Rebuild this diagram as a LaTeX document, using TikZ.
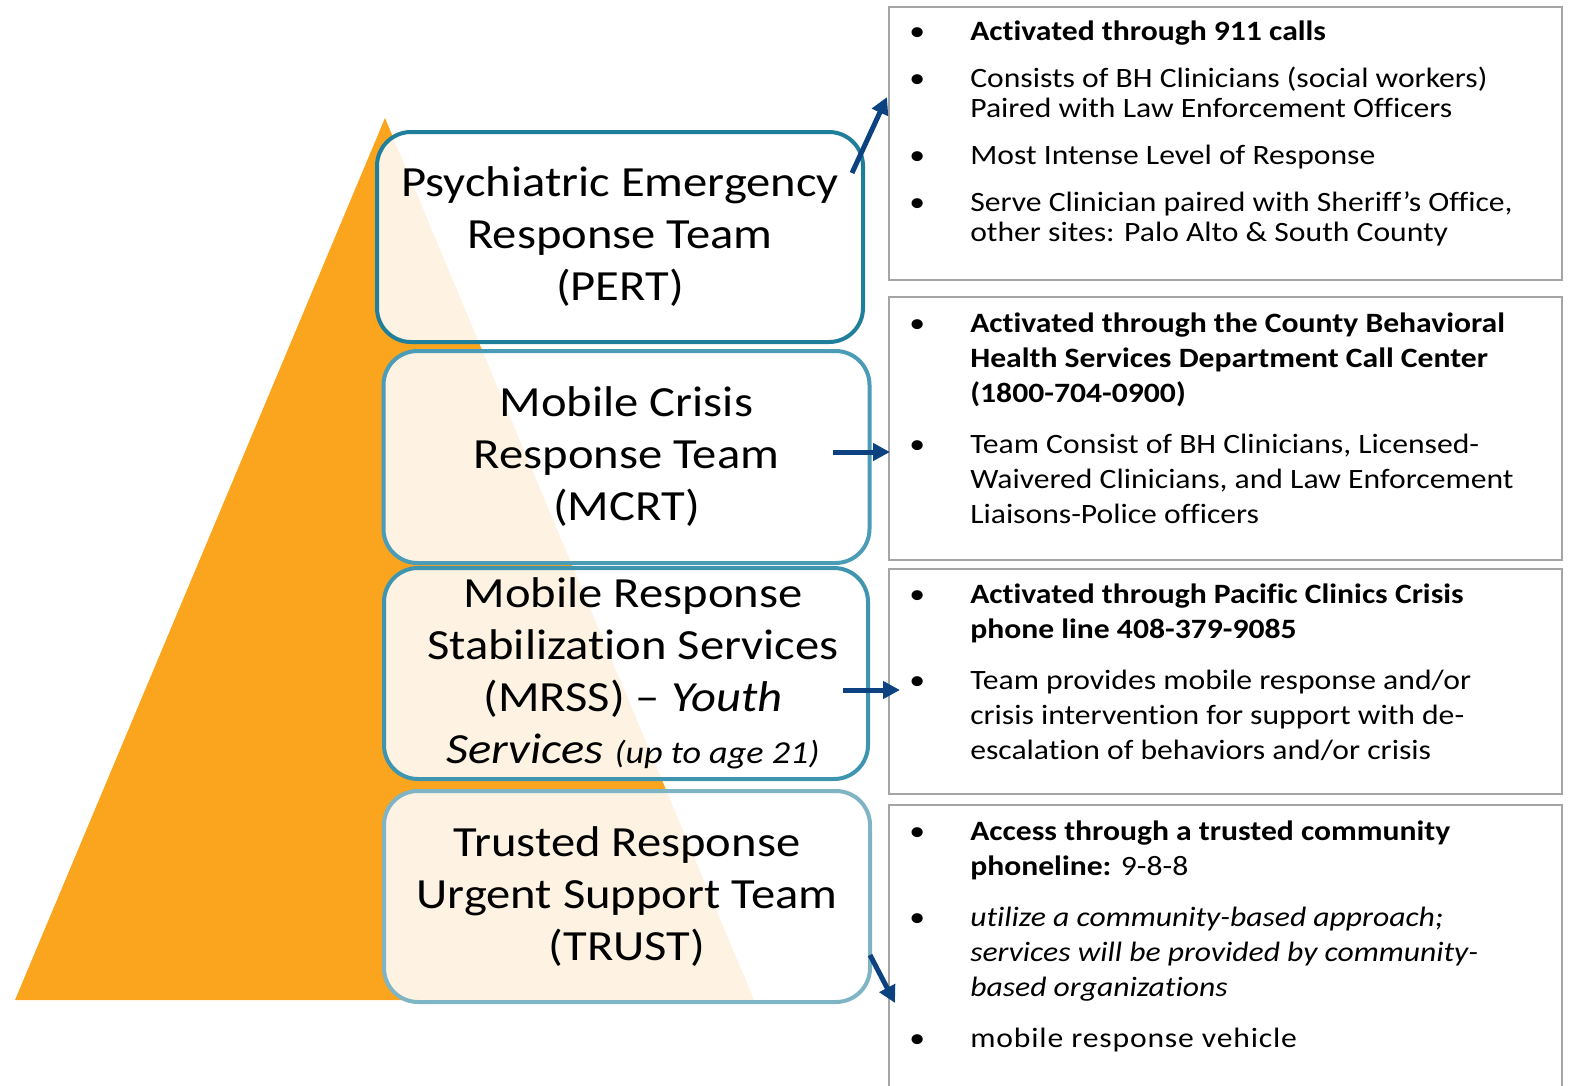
\documentclass[tikz,border=0pt]{standalone}
\usepackage{fontspec}
\setmainfont[FakeStretch=1.13,Ligatures={TeX,NoCommon}]{Carlito}
\newfontfamily\spacedfont[FakeStretch=1.13,LetterSpace=3]{Carlito}
\usetikzlibrary{arrows.meta}
\definecolor{pyrorange}{RGB}{251,164,30}
\definecolor{pertteal}{RGB}{31,127,155}
\definecolor{mcrtteal}{RGB}{75,156,182}
\definecolor{mrssteal}{RGB}{63,149,175}
\definecolor{trustteal}{RGB}{127,180,197}
\definecolor{boxgray}{RGB}{165,165,165}
\definecolor{arrowblue}{RGB}{13,66,128}
\newcommand\itembullet{\makebox[14pt]{\textbullet}}

\begin{document}
\begin{tikzpicture}[x=1pt,y=-1pt,
    tier/.style={draw, line width=4pt, rounded corners=34pt, fill=white, fill opacity=0.88,
      text opacity=1, minimum width=486pt, minimum height=211pt, inner sep=0pt,
      align=center, font=\fontsize{43}{52}\selectfont},
    infobox/.style={draw=boxgray, line width=1.8pt, minimum width=673pt, inner sep=0pt},
    infolist/.style={anchor=north west, inner sep=0pt, font=\fontsize{28}{35}\selectfont},
    arr/.style={draw=arrowblue, line width=5pt, -{Triangle[length=17pt,width=17pt]}}]
    \useasboundingbox (0,0) rectangle (1576,1085);
          % pyramid behind the tiers
          \fill[pyrorange] (385,118) -- (754,1000) -- (15,1000) -- cycle;
          \node[tier, draw=pertteal, minimum height=210pt] (pert) at (620,237) {Psychiatric Emergency\\Response Team\\(PERT)};
          \node[tier, draw=mcrtteal, minimum height=212pt] (mcrt) at (626.5,457) {Mobile Crisis\\Response Team\\(MCRT)};
          \node[tier, draw=mrssteal, minimum width=484pt] (mrss) at (626,673.5) {\hspace*{14pt}Mobile Response\\\hspace*{14pt}Stabilization Services\\\hspace*{14pt}(MRSS) – \textit{Youth}\\\hspace*{14pt}\textit{Services} {\fontsize{32}{52}\selectfont\textit{(up to age 21)}}};
          \node[tier, draw=trustteal] (trust) at (627,896.5) {Trusted Response\\Urgent Support Team\\(TRUST)};
          % info boxes
          \node[infobox, minimum height=273pt] (pertinfo) at (1225.5,143.5) {};
          \node[infobox, minimum height=263pt] (mcrtinfo) at (1225.5,428.5) {};
          \node[infobox, minimum height=225pt] (mrssinfo) at (1225.5,681.5) {};
          \node[infobox, minimum height=300pt] (trustinfo) at (1225.5,955) {};
          \node[infolist, font=\fontsize{28}{30}\selectfont] (pertlist) at ([shift={(22,13)}]pertinfo.north west) {%
            \begin{tabular}{@{}p{60pt}@{}l@{}}
            \itembullet & \textbf{Activated through 911 calls}\\[17pt]
            \itembullet & Consists of BH Clinicians (social workers)\\
             & Paired with Law Enforcement Officers\\[17pt]
            \itembullet & Most Intense Level of Response\\[17pt]
            \itembullet & Serve Clinician paired with Sheriff’s Office,\\
             & other sites: Palo Alto \& South County
            \end{tabular}};
          \node[infolist] (mcrtlist) at ([shift={(22,11.5)}]mcrtinfo.north west) {%
            \begin{tabular}{@{}p{60pt}@{}l@{}}
            \itembullet & \textbf{Activated through the County Behavioral}\\
             & \textbf{Health Services Department Call Center}\\
             & \textbf{(1800-704-0900)}\\[16pt]
            \itembullet & Team Consist of BH Clinicians, Licensed-\\
             & Waivered Clinicians, and Law Enforcement\\
             & Liaisons-Police officers
            \end{tabular}};
          \node[infolist] (mrsslist) at ([shift={(22,10.5)}]mrssinfo.north west) {%
            \begin{tabular}{@{}p{60pt}@{}l@{}}
            \itembullet & \textbf{Activated through Pacific Clinics Crisis}\\
             & \textbf{phone line 408-379-9085}\\[16pt]
            \itembullet & Team provides mobile response and/or\\
             & crisis intervention for support with de-\\
             & escalation of behaviors and/or crisis
            \end{tabular}};
          \node[infolist] (trustlist) at ([shift={(22,12)}]trustinfo.north west) {%
            \begin{tabular}{@{}p{60pt}@{}l@{}}
            \itembullet & \textbf{Access through a trusted community}\\
             & \textbf{phoneline:} 9-8-8\\[16pt]
            \itembullet & \textit{utilize a community-based approach;}\\
             & \textit{services will be provided by community-}\\
             & \textit{based organizations}\\[16pt]
            \itembullet & {\spacedfont mobile response vehicle}
            \end{tabular}};
          % arrows from tiers to boxes
          \coordinate (pertout) at (852,173);
          \coordinate (pertin) at (887,97);
          \coordinate (mcrtout) at (833,452);
          \coordinate (mcrtin) at (890,452);
          \coordinate (mrssout) at (843,690);
          \coordinate (mrssin) at (900,690);
          \coordinate (trustout) at (870,955);
          \coordinate (trustin) at (895,1003);
          \draw[arr] (pertout) -- (pertin);
          \draw[arr] (mcrtout) -- (mcrtin);
          \draw[arr] (mrssout) -- (mrssin);
          \draw[arr] (trustout) -- (trustin);
        \end{tikzpicture}
\end{document}
